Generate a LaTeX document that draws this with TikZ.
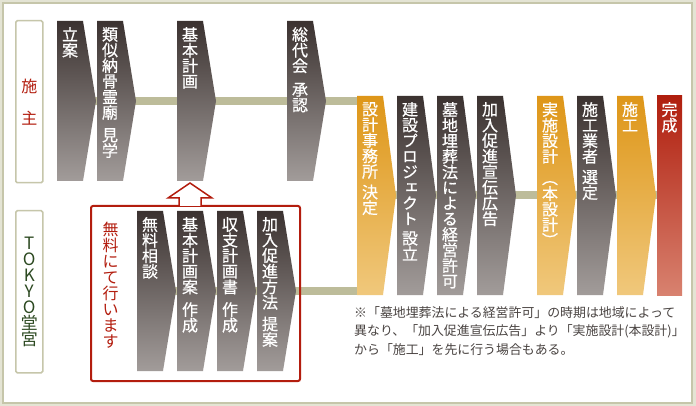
\documentclass[tikz,border=0pt]{standalone}
\usepackage{fontspec}
\newfontfamily\jp{Noto Sans CJK JP}
\newfontfamily\jpv[RawFeature=+vert,FakeBold=0.6]{Noto Sans CJK JP}
\usetikzlibrary{positioning,calc}
\definecolor{darktop}{HTML}{3B3230}
\definecolor{darkbot}{HTML}{A29C9A}
\definecolor{orangetop}{HTML}{DE9618}
\definecolor{orangebot}{HTML}{F0C87C}
\definecolor{redtop}{HTML}{B01E0E}
\definecolor{redbot}{HTML}{D8826F}
\definecolor{bandbeige}{HTML}{BDBC9A}
\definecolor{framebeige}{HTML}{C6C6AA}
\definecolor{outerbg}{HTML}{E4E4D4}
\definecolor{brandred}{HTML}{B31D0E}
\definecolor{tokyogreen}{HTML}{2D4A22}
\definecolor{notegrey}{HTML}{4A4442}
\pgfdeclarelayer{back}
\pgfdeclarelayer{background}
\pgfsetlayers{back,background,main}

% one step of the flow: name, top left corner, height, colour, label
\newcommand{\flowstep}[5]{%
	\node[stepbox,minimum height=#3] (#1) at (#2) {};
	\shade[top color=#4top,bottom color=#4bot] (#1.north west) -- (#1.north east)
		-- ([xshift=13pt]#1.east) -- (#1.south east) -- (#1.south west) -- cycle;
	\node[steplabel] at ([yshift=-6pt]#1.north) {#5};
}

\begin{document}
\begin{tikzpicture}[x=1pt,y=-1pt,
	stepbox/.style={anchor=north west,minimum width=26pt,inner sep=0pt,outer sep=0pt},
	steplabel/.style={anchor=north,inner sep=0pt,text=white,align=center,
		font=\jpv\fontsize{16}{15.6}\selectfont},
	link/.style={line width=8pt,bandbeige},
	partybox/.style={anchor=north west,draw=framebeige,line width=1.5pt,fill=white,
		rounded corners=1.5pt,minimum width=27pt,minimum height=162pt,inner sep=0pt,
		align=center,font=\jp\fontsize{16}{16}\selectfont},
	freebox/.style={anchor=north west,draw=brandred,line width=2pt,rounded corners=2pt,
		minimum width=209pt,minimum height=175pt,outer sep=0pt},
	hollowarrow/.style={draw=brandred,line width=1.5pt,fill=white},
	notetext/.style={anchor=north west,inner sep=0pt,align=left,text=notegrey,
		font=\jp\fontsize{12.9}{18.5}\selectfont}
	]
	\begin{pgfonlayer}{back}
		\fill[outerbg] (0,0) rectangle (696,406);
		\draw[framebeige,line width=2pt,fill=white] (3,3) rectangle (692,403);
	\end{pgfonlayer}
	%%%%%%%%%%%%%%% parties
	\node[partybox,text=brandred] (seshu) at (15,20) {施\\[16pt]主};
	\node[partybox,text=tokyogreen,font=\jp\fontsize{17}{16}\selectfont] (tokyo) at (15,210)
		{T\\O\\K\\Y\\O\\堂\\宮};
	%%%%%%%%%%%%%%% free of charge
	\node[freebox] (free) at (91,206) {};
	\node[anchor=north,inner sep=0pt,text=brandred,align=center,
		font=\jp\fontsize{16}{16}\selectfont] (freelabel) at (110.5,222)
		{無\\料\\に\\て\\行\\い\\ま\\す};
	%%%%%%%%%%%%%%% client row
	\flowstep{ritsuan}{57,21}{160pt}{dark}{立\\案}
	\flowstep{ruiji}{97,21}{160pt}{dark}{類\\似\\納\\骨\\霊\\廟\\[7pt]見\\学}
	\flowstep{kihon}{177,21}{160pt}{dark}{基\\本\\計\\画}
	\flowstep{soudai}{287,21}{160pt}{dark}{総\\代\\会\\[8pt]承\\認}
	%%%%%%%%%%%%%%% TOKYO row
	\flowstep{muryou}{137,211}{160pt}{dark}{無\\料\\相\\談}
	\flowstep{keikakuan}{177,211}{160pt}{dark}{基\\本\\計\\画\\案\\[7pt]作\\成}
	\flowstep{shushi}{217,211}{160pt}{dark}{収\\支\\計\\画\\書\\[7pt]作\\成}
	\flowstep{houhou}{257,211}{160pt}{dark}{加\\入\\促\\進\\方\\法\\[6pt]提\\案}
	%%%%%%%%%%%%%%% joint steps
	\flowstep{sekkei}{357,96}{199pt}{orange}{設\\計\\事\\務\\所\\[5pt]決\\定}
	\flowstep{kensetsu}{397,96}{199pt}{dark}{建\\設\\プ\\ロ\\ジ\\ェ\\ク\\ト\\[4pt]設\\立}
	\flowstep{bochi}{437,96}{199pt}{dark}{墓\\地\\埋\\葬\\法\\に\\よ\\る\\経\\営\\許\\可}
	\flowstep{senden}{477,96}{199pt}{dark}{加\\入\\促\\進\\宣\\伝\\広\\告}
	\flowstep{jisshi}{537,96}{199pt}{orange}{実\\施\\設\\計\\[6pt]（\\本\\設\\計\\）}
	\flowstep{sekou}{577,96}{199pt}{dark}{施\\工\\業\\者\\[5pt]選\\定}
	\flowstep{shikou}{617,96}{199pt}{orange}{施\\工}
	\node[stepbox,minimum width=25pt,minimum height=199pt,top color=redtop,bottom color=redbot]
		(kansei) at (657,96) {};
	\node[steplabel] at ([yshift=-6pt]kansei.north) {完\\成};
	%%%%%%%%%%%%%%% connectors
	\begin{pgfonlayer}{background}
		\foreach \a/\b in {ritsuan/ruiji,ruiji/kihon,kihon/soudai,
			muryou/keikakuan,keikakuan/shushi,shushi/houhou,
			sekkei/kensetsu,kensetsu/bochi,bochi/senden,senden/jisshi,
			jisshi/sekou,sekou/shikou,shikou/kansei}
			\draw[link] (\a.east) -- (\b.west);
		\draw[link] (soudai.east) -- (soudai.east -| sekkei.west);
		\draw[link] (houhou.east) -- (houhou.east -| sekkei.west);
	\end{pgfonlayer}
	\coordinate (uptip) at ([yshift=-2pt]kihon.south);
	\draw[hollowarrow] ([xshift=-11pt]uptip |- free.north) -- ++(0,-8) -- ++(-11,0)
		-- (uptip) -- ++(22,15) -- ++(-11,0) -- ++(0,8);
	%%%%%%%%%%%%%%% note
	\node[notetext] (note) at (354,306)
		{※「墓地埋葬法による経営許可」の時期は地域によって\\
		異なり、「加入促進宣伝広告」より「実施設計(本設計)」\\
		から「施工」を先に行う場合もある。};
\end{tikzpicture}
\end{document}
